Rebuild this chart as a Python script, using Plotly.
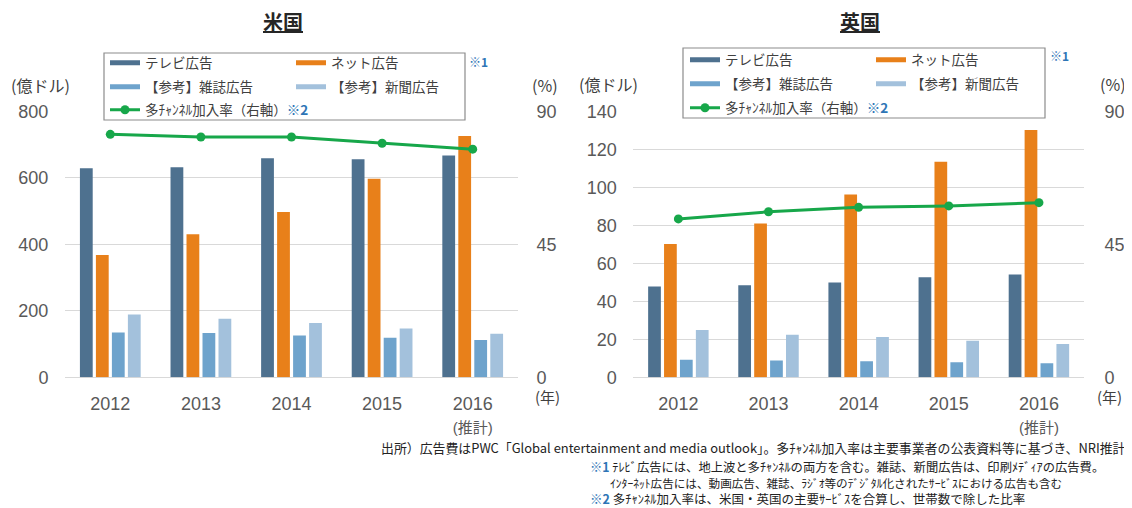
import plotly.graph_objects as go

W, H = 1132, 508
OFF = 8  # the page body margin offsets the figure by 8 px

years = ["2012", "2013", "2014", "2015", "2016"]
year_labels = ["2012", "2013", "2014", "2015", "2016<br><span style='font-size:15px'>(推計)</span>"]

# 米国 (億ドル)
us_tv = [629, 632, 659, 656, 667]
us_net = [368, 430, 497, 597, 726]
us_mag = [135, 133, 126, 119, 112]
us_news = [189, 176, 163, 147, 131]
us_rate = [82.2, 81.3, 81.3, 79.2, 77.2]

# 英国 (億ドル)
uk_tv = [47.8, 48.4, 49.9, 52.7, 54.1]
uk_net = [70.1, 81.0, 96.2, 113.5, 130.1]
uk_mag = [9.3, 8.9, 8.4, 7.9, 7.4]
uk_news = [24.9, 22.4, 21.2, 19.3, 17.5]
uk_rate = [53.6, 56.0, 57.5, 58.0, 59.1]

us_left_ticks = [0, 200, 400, 600, 800]
uk_left_ticks = [0, 20, 40, 60, 80, 100, 120, 140]
right_ticks = [0, 45, 90]

C_TV = "#4e718f"
C_NET = "#e8801a"
C_MAG = "#6ea3cc"
C_NEWS = "#a3c1dc"
C_RATE = "#17a74a"
BLUE = "#2e75b6"

FONT = "Liberation Sans, Arial, Noto Sans CJK JP, sans-serif"
JFONT = "Noto Sans CJK JP, sans-serif"


def px(x):
    return (x - OFF) / W


def py(y):
    return 1 - (y - OFF) / H


fig = go.Figure()

bar_names = ["テレビ広告", "ネット広告", "【参考】雑誌広告", "【参考】新聞広告"]
bar_colors = [C_TV, C_NET, C_MAG, C_NEWS]

for name, vals, col in zip(bar_names, [us_tv, us_net, us_mag, us_news], bar_colors):
    fig.add_trace(go.Bar(x=years, y=vals, name=name, marker=dict(color=col, line=dict(width=0)),
                         xaxis="x", yaxis="y", showlegend=False))
fig.add_trace(go.Scatter(x=years, y=us_rate, mode="lines+markers", name="多チャンネル加入率（米国）",
                         line=dict(color=C_RATE, width=3), marker=dict(size=9, color=C_RATE),
                         xaxis="x", yaxis="y2", showlegend=False))
for name, vals, col in zip(bar_names, [uk_tv, uk_net, uk_mag, uk_news], bar_colors):
    fig.add_trace(go.Bar(x=years, y=vals, name=name, marker=dict(color=col, line=dict(width=0)),
                         xaxis="x2", yaxis="y3", showlegend=False))
fig.add_trace(go.Scatter(x=years, y=uk_rate, mode="lines+markers", name="多チャンネル加入率（英国）",
                         line=dict(color=C_RATE, width=3), marker=dict(size=9, color=C_RATE),
                         xaxis="x2", yaxis="y4", showlegend=False))

# Legend entries: one legend per entry so the boxed 2-column layout can be placed
rate_name_us = "多ﾁｬﾝﾈﾙ加入率（右軸）<span style='color:%s'><b>※2</b></span>" % BLUE
rate_name_uk = "多ﾁｬﾝﾈﾙ加入率（右軸）<span style='color:%s'><b>※2</b></span>" % BLUE

legend_layouts = {}
entries = []
us_rows = [63, 87, 110]
uk_rows = [60, 84, 108]
for base_x, rows, rname in [(110, us_rows, rate_name_us), (690, uk_rows, rate_name_uk)]:
    entries.append((bar_names[0], C_TV, False, base_x, rows[0]))
    entries.append((bar_names[1], C_NET, False, base_x + 186, rows[0]))
    entries.append((bar_names[2], C_MAG, False, base_x, rows[1]))
    entries.append((bar_names[3], C_NEWS, False, base_x + 186, rows[1]))
    entries.append((rname, C_RATE, True, base_x, rows[2]))

for i, (name, col, is_rate, sx, ry) in enumerate(entries):
    lname = "legend" if i == 0 else "legend%d" % (i + 1)
    if is_rate:
        tr = go.Scatter(x=[None], y=[None], mode="lines+markers", name=name,
                        line=dict(color=col, width=3), marker=dict(size=9, color=col),
                        legend=lname, showlegend=True, hoverinfo="skip")
    else:
        tr = go.Scatter(x=[None], y=[None], mode="lines", name=name,
                        line=dict(color=col, width=5),
                        legend=lname, showlegend=True, hoverinfo="skip")
    fig.add_trace(tr)
    legend_layouts[lname] = dict(
        x=px(sx - 5), y=py(ry), xanchor="left", yanchor="middle",
        bgcolor="rgba(0,0,0,0)", borderwidth=0,
        font=dict(family=JFONT, size=13.5, color="#404040"),
        itemclick=False, itemdoubleclick=False,
    )

ydom = [py(377.3), py(111.3)]
tickfont = dict(family=FONT, size=18, color="#595959")
common_x = dict(type="category", tickvals=years, ticktext=year_labels, tickfont=tickfont,
                showgrid=False, showline=False, zeroline=False, automargin=False,
                ticks="outside", ticklen=10, tickcolor="rgba(0,0,0,0)", fixedrange=True)
common_yl = dict(tickfont=tickfont, showgrid=True, gridcolor="#d9d9d9", gridwidth=1,
                 zeroline=True, zerolinecolor="#d9d9d9", zerolinewidth=1, showline=False,
                 automargin=False, ticks="outside", ticklen=12,
                 tickcolor="rgba(0,0,0,0)", fixedrange=True)
common_yr = dict(side="right", range=[0, 90], tickvals=right_ticks, tickfont=tickfont,
                 showgrid=False, zeroline=False, showline=False, automargin=False,
                 ticks="outside", tickcolor="rgba(0,0,0,0)", fixedrange=True)

fig.update_layout(
    width=W, height=H,
    margin=dict(l=0, r=0, t=0, b=0),
    paper_bgcolor="white", plot_bgcolor="white",
    barmode="group", bargap=0.294, bargroupgap=0.2,
    showlegend=True,
    font=dict(family=JFONT, color="#404040"),
    xaxis=dict(domain=[px(65), px(518)], anchor="y", **common_x),
    yaxis=dict(domain=ydom, anchor="x", range=[0, 800], tickvals=us_left_ticks, **common_yl),
    yaxis2=dict(domain=ydom, anchor="x", overlaying="y", ticklen=14, **common_yr),
    xaxis2=dict(domain=[px(633.3), px(1084)], anchor="y3", **common_x),
    yaxis3=dict(domain=ydom, anchor="x2", range=[0, 140], tickvals=uk_left_ticks, **common_yl),
    yaxis4=dict(domain=ydom, anchor="x2", overlaying="y3", ticklen=16, **common_yr),
    **legend_layouts,
)

# Legend boxes
for x0, x1, y0, y1 in [(104, 465, 53, 120), (683, 1045, 48, 118)]:
    fig.add_shape(type="rect", xref="paper", yref="paper",
                  x0=px(x0), x1=px(x1), y0=py(y1), y1=py(y0),
                  line=dict(color="#8c8c8c", width=1.2), fillcolor="white", layer="above")

ann = []


def add_text(text, x, y, size, color="#404040", xanchor="center", family=JFONT):
    ann.append(dict(text=text, x=px(x), y=py(y), xref="paper", yref="paper",
                    xanchor=xanchor, yanchor="middle", showarrow=False,
                    font=dict(family=family, size=size, color=color)))


add_text("<b><u>米国</u></b>", 283, 22, 20, "#262626")
add_text("<b><u>英国</u></b>", 860, 22, 20, "#262626")
add_text("<b>※1</b>", 478, 61, 12, BLUE)
add_text("<b>※1</b>", 1059, 55, 12, BLUE)
add_text("(億ドル)", 40, 85, 16, "#404040")
add_text("(%)", 545, 85, 16, "#404040")
add_text("(年)", 547, 396, 15, "#404040")
add_text("(億ドル)", 608, 84, 16, "#404040")
add_text("(%)", 1113, 84, 16, "#404040")
add_text("(年)", 1109, 396, 15, "#404040")

add_text("出所）広告費はPWC「Global entertainment and media outlook」。多ﾁｬﾝﾈﾙ加入率は主要事業者の公表資料等に基づき、NRI推計",
         1128, 447, 12.9, "#222222", xanchor="right")
add_text("<span style='color:%s'><b>※1</b></span> ﾃﾚﾋﾞ広告には、地上波と多ﾁｬﾝﾈﾙの両方を含む。雑誌、新聞広告は、印刷ﾒﾃﾞｨｱの広告費。" % BLUE,
         588, 467, 12.3, "#222222", xanchor="left")
add_text("ｲﾝﾀｰﾈｯﾄ広告には、動画広告、雑誌、ﾗｼﾞｵ等のﾃﾞｼﾞﾀﾙ化されたｻｰﾋﾞｽにおける広告も含む",
         608, 483, 11.6, "#222222", xanchor="left")
add_text("<span style='color:%s'><b>※2</b></span> 多ﾁｬﾝﾈﾙ加入率は、米国・英国の主要ｻｰﾋﾞｽを合算し、世帯数で除した比率" % BLUE,
         588, 498, 12.5, "#222222", xanchor="left")

fig.update_layout(annotations=ann)

fig.write_html("out.html")
